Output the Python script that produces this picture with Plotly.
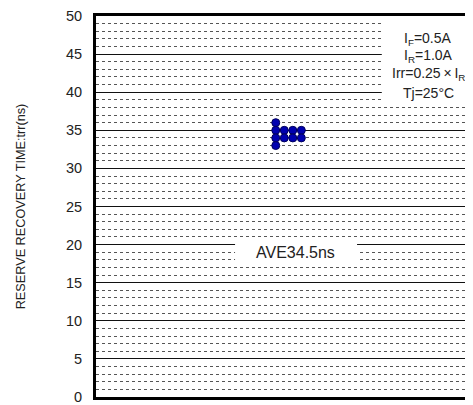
import plotly.graph_objects as go

# Data: sample columns and reverse recovery times (ns)
sample_col = [1, 1, 1, 1, 2, 2, 3, 3, 4, 4]
trr_ns = [36, 35, 34, 33, 35, 34, 35, 34, 35, 34]
y_ticks = [0, 5, 10, 15, 20, 25, 30, 35, 40, 45, 50]
cond_lines = ["I<sub>F</sub>=0.5A", "I<sub>R</sub>=1.0A",
              "Irr=0.25\u2009×\u2009I<sub>R</sub>", "Tj=25°C"]
ave_label = "AVE34.5ns"

FONT = "Liberation Sans, Arial, Helvetica, sans-serif"

fig = go.Figure()
fig.add_trace(go.Scatter(
    x=sample_col, y=trr_ns, mode="markers",
    marker=dict(size=8, color="#0000b0", line=dict(color="#00005a", width=1)),
    showlegend=False, hoverinfo="skip"))

xr = [-20.07, 25.06]

shapes = [
    dict(type="rect", xref="x", yref="y", x0=13.43, x1=30, y0=38.5, y1=49.8,
         fillcolor="white", line=dict(width=0), layer="above"),
    dict(type="rect", xref="x", yref="y", x0=-3.77, x1=10.53, y0=17.6, y1=20.6,
         fillcolor="white", line=dict(width=0), layer="above"),
]

annotations = []
cond_y = [47.0, 44.8, 42.45, 39.85]
for t, yy in zip(cond_lines, cond_y):
    annotations.append(dict(x=18.85, y=yy, xref="x", yref="y", text=t,
                            showarrow=False, xanchor="center", yanchor="middle",
                            font=dict(family=FONT, size=14, color="#222")))
annotations.append(dict(x=3.26, y=18.9, xref="x", yref="y", text=ave_label,
                        showarrow=False, xanchor="center", yanchor="middle",
                        font=dict(family=FONT, size=16, color="#222")))

fig.update_layout(
    width=473, height=405,
    margin=dict(l=88, r=0, t=5, b=16),
    paper_bgcolor="white", plot_bgcolor="white",
    font=dict(family=FONT, color="#222"),
    shapes=shapes, annotations=annotations,
    xaxis=dict(range=xr, showgrid=False, zeroline=False, showticklabels=False,
               ticks="", showline=True, mirror=True, linecolor="black",
               linewidth=3, fixedrange=True),
    yaxis=dict(range=[0, 50], tickvals=y_ticks, ticks="",
               showgrid=True, gridcolor="#111", gridwidth=1,
               zeroline=False, showline=True, mirror=False,
               linecolor="black", linewidth=3,
               tickfont=dict(family=FONT, size=14.5, color="#222"),
               ticklabelstandoff=8, ticklabeloverflow="allow",
               title=dict(text="RESERVE RECOVERY TIME:trr(ns)", standoff=38,
                          font=dict(family=FONT, size=12.7, color="#222")),
               minor=dict(dtick=1, showgrid=True, gridcolor="#555",
                          griddash="dot", gridwidth=1),
               fixedrange=True),
)

fig.write_html("out.html")
